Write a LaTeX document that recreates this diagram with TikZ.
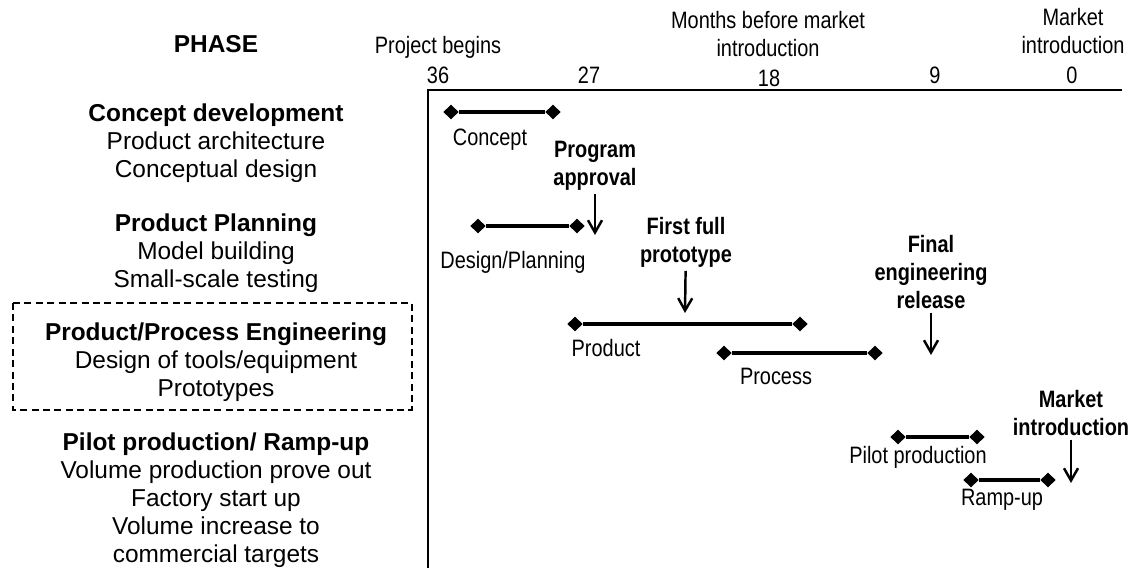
\documentclass[tikz,border=0pt]{standalone}
\usepackage{fontspec}
\setmainfont{Liberation Sans}
\newfontfamily\narrowfont[FakeStretch=0.84]{Liberation Sans}
\usetikzlibrary{positioning}
\usetikzlibrary{arrows.meta}
\usetikzlibrary{shapes.geometric}

\begin{document}
\begin{tikzpicture}[x=0.02cm, y=-0.02cm,
    phase/.style={align=center, font=\fontsize{13.9}{15.9}\selectfont},
    lbl/.style={align=center, font=\narrowfont\fontsize{13.5}{15.6}\selectfont},
    mile/.style={align=center, inner sep=2pt, font=\narrowfont\bfseries\fontsize{13.5}{15.9}\selectfont},
    marker/.style={diamond, fill=black, inner sep=0pt, minimum width=0.31cm, minimum height=0.3cm},
    bar/.style={line width=1.9pt},
    pointer/.style={line width=1.4pt, -{Straight Barb[length=7pt,width=8pt,line width=1.4pt]}}]
    \useasboundingbox (0,0) rectangle (1133,568);

    % time axis
    \coordinate (axisl) at (428,90);
    \coordinate (axisr) at (1122,90);
    \coordinate (axisb) at (428,568);
    \draw[line width=1.1pt] (axisb) -- (axisl) -- (axisr);

    % axis labels
    \node[lbl] (begins) at (438,47) {Project begins};
    \node[lbl] (months) at (768,34) {Months before market\\introduction};
    \node[lbl] (intro)  at (1073,31) {Market\\introduction};
    \node[lbl] (t36) at (438,75) {36};
    \node[lbl] (t27) at (589,75) {27};
    \node[lbl] (t18) at (769,78) {18};
    \node[lbl] (t9)  at (935,75) {9};
    \node[lbl] (t0)  at (1072,75) {0};

    % phases
    \node[phase, font=\bfseries\fontsize{13.9}{15.9}\selectfont] (phase) at (216,44) {PHASE};
    \node[phase] (concdev) at (216,143) {\textbf{Concept development}\\Product architecture\\Conceptual design};
    \node[phase] (planning) at (216,253) {\textbf{Product Planning}\\Model building\\Small-scale testing};
    \node[phase] (engineering) at (216,362) {\textbf{Product/Process Engineering}\\Design of tools/equipment\\Prototypes};
    \node[phase] (rampup) at (216,500) {\textbf{Pilot production/ Ramp-up}\\Volume production prove out\\Factory start up\\Volume increase to\\commercial targets};
    \draw[line width=0.8pt, dash pattern=on 4pt off 2.5pt] (13,303) rectangle (412,410);

    % bars
    \node[marker] (concepta) at (451,112) {};
    \node[marker] (conceptb) at (553,112) {};
    \draw[bar] (concepta) -- (conceptb);
    \node[lbl] (concept) at (490,140) {Concept};

    \node[marker] (designa) at (478,226) {};
    \node[marker] (designb) at (577,226) {};
    \draw[bar] (designa) -- (designb);
    \node[lbl] (design) at (513,262) {Design/Planning};

    \node[marker] (producta) at (575,324) {};
    \node[marker] (productb) at (800,324) {};
    \draw[bar] (producta) -- (productb);
    \node[lbl] (product) at (606,348) {Product};

    \node[marker] (processa) at (724,353) {};
    \node[marker] (processb) at (875,353) {};
    \draw[bar] (processa) -- (processb);
    \node[lbl] (process) at (776,376) {Process};

    \node[marker] (pilota) at (898,437) {};
    \node[marker] (pilotb) at (977,437) {};
    \draw[bar] (pilota) -- (pilotb);
    \node[lbl] (pilot) at (918,457) {Pilot production};

    \node[marker] (rampa) at (971,480) {};
    \node[marker] (rampb) at (1048,480) {};
    \draw[bar] (rampa) -- (rampb);
    \node[lbl] (ramp) at (1002,500) {Ramp-up};

    % milestones
    \node[mile] (approval) at (595,166) {Program\\approval};
    \coordinate (approvalend) at (595,235);
    \draw[pointer] (approval) -- (approvalend);

    \node[mile] (prototype) at (686,242) {First full\\prototype};
    \coordinate (prototypeend) at (685,313);
    \draw[pointer] (prototype) -- (prototypeend);

    \node[mile] (release) at (931,272) {Final\\engineering\\release};
    \coordinate (releaseend) at (931,355);
    \draw[pointer] (release) -- (releaseend);

    \node[mile] (market) at (1071,413) {Market\\introduction};
    \coordinate (marketend) at (1071,483);
    \draw[pointer] (market) -- (marketend);
\end{tikzpicture}
\end{document}
